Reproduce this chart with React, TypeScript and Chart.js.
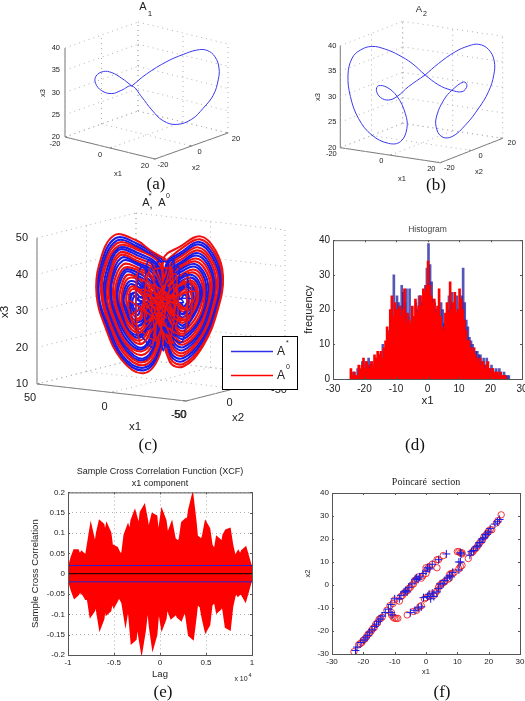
import React, { useEffect, useRef } from "react";
import { Chart, registerables } from "chart.js";
Chart.register(...registerables);

const PAGE_W = 525, PAGE_H = 701;
const SANS = "'Liberation Sans', Arial, sans-serif";
const SERIF = "'Liberation Serif', 'Times New Roman', serif";

// ---- A1 / A2 periodic orbits: [x1, x3] (x2 tracks x1)
const orbitA1 = [[-3.6,31.1],[0,33.7],[5,36.4],[9,37.9],[12.3,38.8],[14.8,38.7],[16.8,37.2],[17.8,34.6],[17.6,32],[16.4,28.6],[13.9,25.7],[11.1,23.3],[7.4,22.2],[4.1,23.1],[1.3,25.6],[-1.2,28.6],[-3.6,31.1],[-6.1,30.2],[-8.5,29.5],[-11,30.2],[-12.5,31.9],[-12.4,33.5],[-10.6,34.5],[-8.5,34.2],[-6.1,32.9],[-3.6,31.1]];
const orbitA2 = [[.9,33.3],[4.2,35.4],[8.3,37.5],[11.6,38.5],[14.1,38.7],[16.5,37.6],[17.9,35.3],[17.8,32.5],[16.5,29.3],[14.1,26.2],[10.8,23],[7.5,20.9],[5,21],[3.6,23],[3.8,25.3],[5.5,28.2],[7.5,30],[10.4,31.5],[11.2,30.7],[10,29.6],[7.1,30.1],[4.2,31.2],[.9,33.3],[-2.3,35.7],[-5.6,37.5],[-8.9,38.8],[-12.2,39.5],[-15.1,38.9],[-17.1,37.4],[-18.1,34.2],[-17.5,29.9],[-15.5,25.5],[-12.2,22.1],[-8.1,20.3],[-5.2,20.5],[-3.6,23],[-4,26],[-6,29.4],[-8.5,31.3],[-10.6,31.7],[-11.1,30.8],[-10.1,29.4],[-8.1,28.8],[-6,29.4],[-3.2,31.2],[.9,33.3]];

// ---- Attractor traces: [x1, x3] (x2 tracks x1)
const attractorRed = [
[-2,43],[4,45.5],[10,48.5],[19,50],[25,42],[26,34],[23,26],[16,16],[7,12],[.5,17],[-2,29],
[-1,43],[-8,46.5],[-16,49],[-22,45],[-25,38],[-23,29],[-17,19],[-9,13.5],[-3.5,15],[0,27],
[0,41],[10,46],[17.5,47],[23,40],[23.5,33.5],[21,27],[15,18.5],[7.5,15],[2,19],[0,29],
[-2.5,40.5],[-9,44],[-15,46],[-20,43],[-23,37],[-21,29],[-16,21],[-9,16.5],[-4.5,18],[-1.5,27.5],
[1.5,39.5],[10,43],[16.5,44.5],[20.5,38.5],[21,33],[19,27.5],[14,20.5],[8,18],[3.5,21],[1.5,29.5],
[-3.5,39],[-9,41.5],[-14,43],[-18,41],[-20.5,36],[-19,30],[-15,23],[-9,19.5],[-5.5,21],[-2.5,28.5],
[3.5,37.5],[10,40.5],[15,41],[18,37],[18.5,32.5],[17,28.5],[13,23],[8.5,21],[5,24],[3.5,30],
[-4.5,37],[-9,39],[-13,40],[-16,38.5],[-17.5,35],[-17,30],[-14,25.5],[-9,22.5],[-6,24],[-4,29],
[5.5,35.5],[10,38],[13.5,38],[15.5,35],[16,32],[15,29],[12.5,25.5],[9,24],[6.5,26],[5.5,30],
[-5.5,35],[-9,36.5],[-12,37],[-14,36],[-15,33.5],[-14.5,30.5],[-12.5,28],[-9,25.5],[-7,26.5],[-5.5,30],
[7.5,33.5],[10,35],[12,35],[13,33.5],[13,31.5],[12.5,30],[11,28],[9.5,27],[8,28],[7.5,30.5],
[-7,33.5],[-9,34.5],[-11,34.5],[-12,33.5],[-12.5,32],[-12,30.5],[-11,29.5],[-9,28.5],[-8,29],[-7,30.5],
];
const attractorBlue = [
[-1,42],[10,47],[18,48.5],[24,41],[25,33.5],[22,26.5],[15.5,17],[7,13.5],[1,18],[-1,29],
[-2,41.5],[-8.5,45],[-15.5,47.5],[-21,44],[-24,37.5],[-22,29],[-16.5,20],[-9,15],[-4,16.5],[-1,27],
[1,40.5],[10,44.5],[17,46],[21.5,39.5],[22.5,33],[20,27],[14.5,19.5],[7.5,16],[2.5,20],[.5,29.5],
[-3,39.5],[-9,42.5],[-14.5,44.5],[-19,42],[-21.5,36.5],[-20,29.5],[-15.5,22],[-9,18],[-5,19.5],[-2,28],
[2.5,38.5],[10,42],[15.5,43],[19.5,38],[20,33],[18,28],[13.5,22],[8,19],[4,22.5],[2.5,30],
[-4,38],[-9,40.5],[-13.5,41.5],[-17,39.5],[-19,35.5],[-18,30],[-14.5,24.5],[-9,21],[-6,22.5],[-3.5,29],
[4.5,36.5],[10,39],[14,40],[17,36],[17.5,32.5],[16,29],[13,24],[8.5,22.5],[5.5,25],[4.5,30],
[-5,36],[-9,38],[-12.5,38.5],[-15,37],[-16.5,34],[-15.5,30.5],[-13,27],[-9,24],[-6.5,25],[-5,29.5],
[6.5,34.5],[10,36],[12.5,36.5],[14.5,34],[15,32],[14,30],[12,26.5],[9,26],[7,27],[6.5,30.5],
[-6.5,34.5],[-9,35.5],[-11.5,36],[-13,35],[-14,33],[-13,30.5],[-12,28.5],[-9,27],[-7.5,27.5],[-6.5,30],
[9,32],[10,33],[11,33],[11.5,32],[11.5,31],[11,30],[10.5,29.5],[9.5,29],[9,30],[9,31],
[-8,32],[-9,33],[-10,33],[-10.5,32],[-10.5,31],[-10,30.5],[-9.5,30],[-9,30],[-8.5,30.5],[-8,31],
];
const attractorMoreBlue = [
[-1.5,42.5],[10,47.7],[18.5,49.2],[24.5,41.5],[25.5,33.8],[22.5,26.2],[15.8,16.5],[7,12.8],[.8,17.5],[-1.5,29],
[-2.2,41],[-8.8,44.5],[-15.2,46.8],[-20.5,43.5],[-23.5,37.2],[-21.5,29],[-16.2,20.5],[-9,15.8],[-4.2,17.2],[-1.2,27.2],
[.5,40.7],[10,45.2],[17.2,46.5],[22.2,39.8],[23,33.2],[20.5,27],[14.8,19],[7.5,15.5],[2.2,19.5],[.2,29.2],
[-3.2,39.2],[-9,42],[-14.2,43.8],[-18.5,41.5],[-21,36.2],[-19.5,29.8],[-15.2,22.5],[-9,18.8],[-5.2,20.2],[-2.2,28.2],
[2,39],[10,42.5],[16,43.8],[20,38.2],[20.5,33],[18.5,27.8],[13.8,21.2],[8,18.5],[3.8,21.8],[2,29.8],
[-4.2,37.5],[-9,39.8],[-13.2,40.8],[-16.5,39],[-18.2,35.2],[-17.5,30],[-14.2,25],[-9,21.8],[-6,23.2],[-3.8,29],
[4,37],[10,39.8],[14.5,40.5],[17.5,36.5],[18,32.5],[16.5,28.8],[13,23.5],[8.5,21.8],[5.2,24.5],[4,30],
[-5.2,35.5],[-9,37.2],[-12.2,37.8],[-14.5,36.5],[-15.8,33.8],[-15,30.5],[-12.8,27.5],[-9,24.8],[-6.8,25.8],[-5.2,29.8],
[6,35],[10,37],[13,37.2],[15,34.5],[15.5,32],[14.5,29.5],[12.2,26],[9,25],[6.8,26.5],[6,30.2],
[-6.8,34],[-9,35],[-11.2,35.2],[-12.5,34.2],[-13.2,32.5],[-12.5,30.5],[-11.5,29],[-9,27.8],[-7.8,28.2],[-6.8,30.2],
[8.2,32.8],[10,34],[11.5,34],[12.2,32.8],[12.2,31.2],[11.8,30],[10.8,28.8],[9.5,28],[8.5,29],[8.2,30.8],
];
const attractorMoreRed = [
[-1.5,42.2],[-8.2,45.8],[-15.8,48.2],[-21.5,44.5],[-24.5,37.8],[-22.5,29],[-16.8,19.5],[-9,14.2],[-3.8,15.8],[-.5,27],
[-.5,41.5],[10,46.5],[17.8,47.8],[23.5,40.5],[24,33.5],[21.5,26.8],[15.2,17.8],[7.2,14.2],[1.5,18.5],[-.5,29],
[-2.8,40],[-9,43.2],[-14.8,45.2],[-19.5,42.5],[-22.2,36.8],[-20.5,29.2],[-15.8,21.5],[-9,17.2],[-4.8,18.8],[-1.8,27.8],
[1.2,40],[10,43.8],[16.8,45.2],[21,39],[21.8,33],[19.5,27.2],[14.2,20],[7.8,17],[3,20.5],[1,29.5],
[-3.8,38.5],[-9,41],[-13.8,42.2],[-17.5,40.2],[-19.8,35.8],[-18.5,30],[-14.8,23.8],[-9,20.2],[-5.8,21.8],[-3,28.8],
[3,38],[10,41.2],[15.2,42],[18.8,37.5],[19.2,32.8],[17.5,28.2],[13.2,22.5],[8.2,20],[4.5,23.2],[3,30],
[-4.8,36.5],[-9,38.5],[-12.8,39.2],[-15.5,37.8],[-17,34.5],[-16.2,30.2],[-13.5,26.2],[-9,23.2],[-6.2,24.5],[-4.5,29.2],
[5,36],[10,38.5],[13.8,39],[16.2,35.5],[16.8,32.2],[15.5,29],[12.8,24.8],[8.8,23.2],[6,25.5],[5,30],
[-6,34.8],[-9,36],[-11.8,36.5],[-13.5,35.5],[-14.5,33.2],[-13.8,30.5],[-12.2,28.2],[-9,26.2],[-7.2,27],[-6,30],
[7,34],[10,35.5],[12.2,35.8],[13.8,33.8],[14,31.8],[13.2,30],[11.5,27.2],[9.2,26.5],[7.5,27.5],[7,30.5],
[-7.5,32.8],[-9,33.8],[-10.5,33.8],[-11.2,32.8],[-11.5,31.5],[-11,30.5],[-10.2,29.8],[-9,29.2],[-8.2,29.8],[-7.5,30.8],
];
const centreBlue = [[6,41],[-5,26],[-7,38],[5,24],[7,37],[-4,22],[-7,41],[6,27],[5,43],[-4,31],[-5,43],[4,20],[-2,38],[-1,18],[3,34],[-6,33],[5,31],[-3,24],[10,38],[-10,24],[-12,36],[10,25],[12,34],[-8,20],[-10,39],[9,22],[8,41],[-8,28],[-13,32],[13,30],[3,19],[-3,42],[2,42],[-2,19],[0,36],[-9,31],[9,33],[0,25],[-6,22],[6,36]];
const centreRed = [[5,40],[-6,25],[-6,36],[6,26],[6,35],[-3,20],[-6,39],[7,29],[4,41],[-5,29],[-4,41],[3,22],[-1,36],[1,19],[4,36],[-7,31],[6,33],[-2,27],[11,36],[-11,26],[-11,38],[9,23],[13,32],[-9,22],[-9,37],[8,20],[9,40],[-7,26],[-14,34],[12,28],[2,21],[-4,40],[3,40],[-1,21],[1,34],[-10,29],[8,35],[-1,23],[-5,20],[7,38]];

// ---- 3-D axis ticks
const ticks20 = [-20, 0, 20];
const ticks3ab = [20, 25, 30, 35, 40];
const ticks50 = [50, 0, -50];
const ticks3c = [10, 20, 30, 40, 50];

// ---- Histogram (x1 bins and frequencies)
const histBins = [-24,-23.5,-23,-22.5,-22,-21.5,-21,-20.5,-20,-19.5,-19,-18.5,-18,-17.5,-17,-16.5,-16,-15.5,-15,-14.5,-14,-13.5,-13,-12.5,-12,-11.5,-11,-10.5,-10,-9.5,-9,-8.5,-8,-7.5,-7,-6.5,-6,-5.5,-5,-4.5,-4,-3.5,-3,-2.5,-2,-1.5,-1,-.5,0,.5,1,1.5,2,2.5,3,3.5,4,4.5,5,5.5,6,6.5,7,7.5,8,8.5,9,9.5,10,10.5,11,11.5,12,12.5,13,13.5,14,14.5,15,15.5,16,16.5,17,17.5,18,18.5,19,19.5,20,20.5,21,21.5,22,22.5,23,23.5,24,24.5,25,25.5];
const histRed = [3,1,2,1,1,4,3,4,6,3,5,4,3,5,4,7,6,8,7,8,6,9,11,15,13,20,24,18,22,20,20,21,18,20,26,16,19,17,16,21,18,23,19,21,24,21,26,25,27,34,27,24,22,23,19,21,26,18,15,14,19,22,19,28,20,22,25,19,20,26,23,20,17,14,11,11,9,8,9,7,6,5,6,4,5,3,4,5,3,2,3,2,2,2,1,2,1,1,1,0];
const histBlue = [2,2,1,3,2,2,5,3,5,4,6,4,5,4,5,6,7,7,6,10,7,8,13,14,15,15,30,20,24,22,21,27,25,22,26,18,26,16,18,17,22,20,24,24,22,23,27,32,39,33,28,23,22,20,20,18,22,20,16,15,20,24,22,25,21,19,24,20,22,24,32,22,17,15,12,11,10,9,8,8,7,7,5,6,4,6,3,3,4,3,2,3,1,3,2,1,2,1,1,1];

// ---- Cross correlation envelope
const lags = [-10000,-9750,-9500,-9250,-9000,-8750,-8500,-8250,-8000,-7750,-7500,-7250,-7000,-6750,-6500,-6250,-6000,-5750,-5500,-5250,-5000,-4750,-4500,-4250,-4000,-3750,-3500,-3250,-3000,-2750,-2500,-2250,-2000,-1750,-1500,-1250,-1000,-750,-500,-250,0,250,500,750,1000,1250,1500,1750,2000,2250,2500,2750,3000,3250,3500,3750,4000,4250,4500,4750,5000,5250,5500,5750,6000,6250,6500,6750,7000,7250,7500,7750,8000,8250,8500,8750,9000,9250,9500,9750,10000];
const xcfUpper = [.005,.02,.04,.055,.055,.04,.05,.045,.035,.07,.105,.08,.06,.1,.125,.12,.085,.113,.1,.055,.065,.062,.05,.045,.05,.095,.11,.09,.13,.145,.125,.1,.15,.16,.13,.085,.12,.143,.14,.08,.105,.145,.13,.085,.1,.115,.085,.08,.075,.085,.125,.13,.11,.155,.178,.13,.07,.085,.08,.09,.12,.11,.07,.06,.05,.085,.08,.06,.095,.105,.107,.07,.045,.04,.05,.04,.055,.06,.04,.02,.005];
const xcfLower = [-.005,-.02,-.04,-.055,-.05,-.04,-.045,-.05,-.06,-.06,-.098,-.09,-.055,-.09,-.125,-.11,-.06,-.095,-.09,-.06,-.075,-.065,-.05,-.06,-.07,-.105,-.07,-.1,-.165,-.16,-.1,-.14,-.175,-.14,-.09,-.07,-.13,-.17,-.15,-.08,-.09,-.125,-.11,-.06,-.09,-.105,-.1,-.09,-.105,-.11,-.095,-.075,-.11,-.15,-.155,-.11,-.06,-.075,-.08,-.11,-.135,-.125,-.075,-.07,-.06,-.09,-.085,-.06,-.09,-.13,-.133,-.08,-.055,-.04,-.05,-.045,-.05,-.06,-.04,-.02,-.005];
const xcfBoundUpper = [.02,.02];
const xcfBoundLower = [-.02,-.02];
const xcfZero = [0,0];
const xcfEnds = [-10000,10000];

// ---- Poincare section
const poincareRed = [[-23,-29],[-21.5,-26],[-21,-25.5],[-20.5,-25],[-20,-24],[-19.5,-23.5],[-19,-22.5],[-18.5,-21.5],[-18,-21],[-17.5,-20],[-17,-19],[-16.5,-18.5],[-16,-17],[-15.5,-16.5],[-15,-15],[-14.5,-14.5],[-14,-14],[-12.5,-11],[-11.5,-9],[-10.5,-8],[-10,-6.5],[-8.5,-7],[-8,-5],[-7.5,-4.5],[-7,-3.5],[-6.5,-3],[-6,-2.5],[-5.5,-1.5],[-5,-1],[-4.5,0],[-4,.5],[-3.5,2],[-3,2.5],[-2.5,3.5],[-1.5,3],[-1,4],[0,5],[0,7.5],[.5,7],[1,8],[2,9],[3.5,7.5],[3.5,11],[4,11],[5.5,12.8],[-11,-12],[-11,-13],[-10.5,-14],[-10,-14.5],[-9.5,-14.5],[-9,-14.5],[-6,-13],[-4,-11.5],[-3,-11],[-2,-9.5],[-1.5,-9],[-.5,-6],[0,-5.5],[1,-5],[1.5,-4],[2.5,-4.5],[3,-3.5],[3.5,-2.5],[4,-1],[4.5,0],[5,.5],[5.5,1],[6,1.5],[7,2.5],[7.5,3],[7.5,4.5],[8,5],[8.5,5],[9,5.5],[10.5,7],[11,8],[11.5,8.5],[13.5,11.5],[10,14.5],[10.5,14.5],[11,14],[11.5,14],[11.5,13.5],[14.5,14],[15,14.5],[15.5,15.5],[16,16],[16.5,17],[17,18],[17.5,19],[18,19.5],[18.5,21],[19,21.5],[19.5,22.5],[20,23.5],[20.5,24],[21,24],[22.5,27],[23,28],[24,30.5]];
const poincareBlue = [[-22.5,-28.5],[-22,-27],[-20.8,-25],[-19.8,-24],[-19.2,-23],[-18.6,-22],[-18,-20.5],[-17.2,-19.5],[-16.4,-18],[-15.8,-17],[-15.2,-15.8],[-14.6,-14.8],[-14,-13.5],[-13,-12],[-12,-10.5],[-11.2,-8.5],[-11.2,-12],[-10.8,-13],[-10,-6],[-8.5,-6],[-8,-4.5],[-7,-3],[-6.5,-2.5],[-6,-3],[-5.5,-1],[-4.5,.5],[-3.5,2.5],[-3,3],[-2.5,2.5],[-2,3.5],[-1,5],[0,6],[.5,7.5],[1.2,7],[2,9],[4,11],[6.5,13.5],[-5,-12],[-3.5,-11],[-2.5,-10],[-1.5,-9.5],[-.8,-5.5],[.5,-5],[1,-4],[1.5,-6],[2,-3.5],[2.5,-5],[3.5,-3],[4,-1.5],[4.5,.5],[5.5,.5],[6,2],[6.8,3],[7.5,4],[8,3.5],[8.5,5.5],[10.5,10],[11,10],[10.5,6.5],[11,14],[11.2,13.5],[14,13],[14.5,14.5],[15.2,15],[16,16.5],[16.5,17],[17,18.5],[17.5,18.5],[18,20],[18.5,20.5],[19,22],[19.5,22],[20,23],[20.5,24.5],[22,26.5],[22.8,27.5],[23.5,28.5]];

const lineBlue = "#3a3af0";
const gridGrey = "#b0b0b0";
const axisGrey = "#777777";
const textDark = "#222222";

type Label = { t: string; x: number; y: number; s: number; f?: string; a?: CanvasTextAlign; r?: number; c?: string };

function textPlugin(labels: Label[], after?: (c: CanvasRenderingContext2D) => void) {
  return {
    id: "pageText",
    afterDraw(chart: any) {
      const c = chart.ctx;
      c.save();
      c.textBaseline = "middle";
      for (const l of labels) {
        c.save();
        c.translate(l.x, l.y);
        if (l.r) c.rotate(l.r);
        c.font = `${l.s}px ${l.f || SANS}`;
        c.textAlign = l.a || "center";
        c.fillStyle = l.c || textDark;
        c.fillText(l.t, 0, 0);
        c.restore();
      }
      c.restore();
      if (after) after(c);
    },
  };
}

function boxPlugin(tickLen: number) {
  return {
    id: "matlabBox",
    afterDatasetsDraw(chart: any) {
      const { ctx: c, chartArea: a, scales } = chart;
      c.save();
      c.strokeStyle = "#555555";
      c.lineWidth = 1;
      c.strokeRect(a.left + 0.5, a.top + 0.5, a.right - a.left, a.bottom - a.top);
      c.beginPath();
      for (const t of scales.x.ticks) {
        const p = Math.round(scales.x.getPixelForValue(t.value)) + 0.5;
        c.moveTo(p, a.bottom); c.lineTo(p, a.bottom - tickLen);
        c.moveTo(p, a.top); c.lineTo(p, a.top + tickLen);
      }
      for (const t of scales.y.ticks) {
        const p = Math.round(scales.y.getPixelForValue(t.value)) + 0.5;
        c.moveTo(a.left, p); c.lineTo(a.left + tickLen, p);
        c.moveTo(a.right, p); c.lineTo(a.right - tickLen, p);
      }
      c.stroke();
      c.restore();
    },
  };
}

type View = { o: number[]; u: number[]; v: number[]; w: number[]; r1: number[]; r2: number[]; r3: number[] };

function project(view: View, x1: number, x2: number, x3: number) {
  const a = (x1 - view.r1[0]) / (view.r1[1] - view.r1[0]);
  const b = (x2 - view.r2[0]) / (view.r2[1] - view.r2[0]);
  const g = (x3 - view.r3[0]) / (view.r3[1] - view.r3[0]);
  return {
    x: view.o[0] + a * view.u[0] + b * view.v[0] + g * view.w[0],
    y: view.o[1] + a * view.u[1] + b * view.v[1] + g * view.w[1],
  };
}

function seg(view: View, p: number[], q: number[], dashed: boolean) {
  return {
    data: [project(view, p[0], p[1], p[2]), project(view, q[0], q[1], q[2])],
    showLine: true, pointRadius: 0,
    borderColor: dashed ? gridGrey : axisGrey,
    borderWidth: 1,
    borderDash: dashed ? [1, 4] : [],
    tension: 0,
  };
}

function frame3D(view: View, t1: number[], t2: number[], t3: number[]) {
  const [a1, b1] = view.r1, [a2, b2] = view.r2, [a3, b3] = view.r3;
  const ds: any[] = [];
  for (const t of t1) {
    ds.push(seg(view, [t, a2, a3], [t, b2, a3], true));
    ds.push(seg(view, [t, b2, a3], [t, b2, b3], true));
    ds.push(seg(view, [t, a2, a3], [t, a2 + (b2 - a2) * 0.025, a3], false));
  }
  for (const t of t2) {
    ds.push(seg(view, [a1, t, a3], [b1, t, a3], true));
    ds.push(seg(view, [a1, t, a3], [a1, t, b3], true));
    ds.push(seg(view, [b1, t, a3], [b1 - (b1 - a1) * 0.025, t, a3], false));
  }
  for (const t of t3) {
    ds.push(seg(view, [a1, a2, t], [a1, b2, t], true));
    ds.push(seg(view, [a1, b2, t], [b1, b2, t], true));
  }
  ds.push(seg(view, [a1, a2, a3], [b1, a2, a3], false));
  ds.push(seg(view, [b1, a2, a3], [b1, b2, a3], false));
  ds.push(seg(view, [a1, a2, a3], [a1, a2, b3], false));
  return ds;
}

function trace(view: View, pts: number[][], color: string, width: number, tension = 0.4) {
  return {
    data: pts.map(([x1, x3]) => project(view, x1, x1, x3)),
    showLine: true, pointRadius: 0, borderColor: color, borderWidth: width, tension,
  };
}

function axisLabels(view: View, t1: number[], t2: number[], t3: number[], s: number, o1: number[], o2: number[], ox3: number): Label[] {
  const out: Label[] = [];
  const [a1] = view.r1, [a2] = view.r2, [a3] = view.r3;
  for (const t of t1) { const p = project(view, t, a2, a3); out.push({ t: String(t), x: p.x + o1[0], y: p.y + o1[1], s }); }
  const b1 = view.r1[1];
  for (const t of t2) { const p = project(view, b1, t, a3); out.push({ t: String(t), x: p.x + o2[0], y: p.y + o2[1], s }); }
  for (const t of t3) { const p = project(view, a1, a2, t); out.push({ t: String(t), x: p.x + ox3, y: p.y, s, a: "right" }); }
  return out;
}

const pageScales: any = {
  x: { type: "linear", min: 0, max: PAGE_W, display: false },
  y: { type: "linear", min: 0, max: PAGE_H, reverse: true, display: false },
};
const baseOpts: any = {
  responsive: false, animation: false, devicePixelRatio: 1,
  plugins: { legend: { display: false }, tooltip: { enabled: false } },
};

const viewA: View = { o: [65, 137], u: [90, 22], v: [73, -26], w: [0, -89], r1: [-20, 20], r2: [-20, 20], r3: [20, 40] };
const viewB: View = { o: [340.3, 147.7], u: [100, 15], v: [62.4, -24.4], w: [0, -102], r1: [-20, 20], r2: [-20, 20], r3: [20, 40] };
const viewC: View = { o: [37, 384], u: [149, 17], v: [99, -25], w: [0, -146], r1: [50, -50], r2: [50, -50], r3: [10, 50] };

function config3D(datasets: any[], labels: Label[], after?: (c: CanvasRenderingContext2D) => void) {
  return {
    type: "scatter",
    data: { datasets },
    options: { ...baseOpts, scales: pageScales, layout: { padding: 0 } },
    plugins: [textPlugin(labels, after)],
  };
}

const ROT = -Math.PI / 2;

function drawLegendC(c: CanvasRenderingContext2D) {
  c.save();
  c.fillStyle = "#ffffff";
  c.strokeStyle = "#000000";
  c.lineWidth = 1;
  c.fillRect(222.5, 336.5, 75, 53);
  c.strokeRect(222.5, 336.5, 75, 53);
  const row = (y: number, col: string, sup: string) => {
    c.strokeStyle = col;
    c.lineWidth = 1.5;
    c.beginPath(); c.moveTo(231, y); c.lineTo(273, y); c.stroke();
    c.fillStyle = textDark;
    c.textBaseline = "middle"; c.textAlign = "left";
    c.font = `12px ${SANS}`;
    c.fillText("A", 277, y);
    c.font = `7px ${SANS}`;
    c.fillText(sup, 286, y - 8);
  };
  row(351.5, "#3030e8", "*");
  row(375.5, "#ff0000", "0");
  c.restore();
}

function charts(): any[] {
  const a = config3D(
    [trace(viewA, orbitA1, lineBlue, 1), ...frame3D(viewA, ticks20, ticks20, ticks3ab)],
    [
      { t: "A", x: 143, y: 7, s: 11 }, { t: "1", x: 150, y: 14, s: 8 },
      { t: "x1", x: 118, y: 174, s: 7.5 }, { t: "x2", x: 196, y: 168, s: 7.5 },
      { t: "x3", x: 43, y: 93, s: 7.5, r: ROT },
      ...axisLabels(viewA, ticks20, ticks20, ticks3ab, 7.5, [-10, 7], [8, 6], -5),
    ]);
  const b = config3D(
    [trace(viewB, orbitA2, lineBlue, 1), ...frame3D(viewB, ticks20, ticks20, ticks3ab)],
    [
      { t: "A", x: 419, y: 9, s: 9.5 }, { t: "2", x: 425, y: 14, s: 7 },
      { t: "x1", x: 402, y: 179, s: 7.5 }, { t: "x2", x: 479, y: 172, s: 7.5 },
      { t: "x3", x: 318, y: 97, s: 7.5, r: ROT },
      ...axisLabels(viewB, ticks20, ticks20, ticks3ab, 7.5, [-9, 6], [9, 5], -4),
    ]);
  const cc = config3D(
    [
      trace(viewC, centreRed, "#ee1111", 1.5, 0.25),
      trace(viewC, centreBlue, "#1a1ae6", 1.5, 0.25),
      trace(viewC, attractorRed, "#f01010", 2),
      trace(viewC, attractorBlue, "#1a1ae6", 2),
      trace(viewC, attractorMoreRed, "#f01010", 2.2),
      trace(viewC, attractorMoreBlue, "#1a1ae6", 2.2),
      ...frame3D(viewC, ticks50, ticks50, ticks3c),
    ],
    [
      { t: "A", x: 146, y: 203, s: 11 }, { t: "*", x: 150, y: 196, s: 8 }, { t: ",", x: 151, y: 205, s: 11 },
      { t: "A", x: 162, y: 203, s: 11 }, { t: "0", x: 168, y: 196, s: 7 },
      { t: "x1", x: 135, y: 427, s: 11.5 }, { t: "x2", x: 238, y: 418, s: 11.5 },
      { t: "x3", x: 5, y: 312, s: 11.5, r: ROT },
      ...axisLabels(viewC, ticks50, ticks50, ticks3c, 11, [-7, 14], [-6, 14], -9),
    ], drawLegendC);

  const fit = (size: number, vertical: boolean) => (s: any) => {
    if (vertical) { s.width = size; s.paddingTop = 0; s.paddingBottom = 0; }
    else { s.height = size; s.paddingLeft = 0; s.paddingRight = 0; }
  };
  const font = (size: number, family = SANS) => ({ size, family, weight: "normal" as const });

  const d = {
    type: "bar",
    data: {
      datasets: [
        { data: histBins.map((x, i) => ({ x, y: histRed[i] })), backgroundColor: "#ff0000", barThickness: 2 },
        { data: histBins.map((x, i) => ({ x, y: histBlue[i] })), backgroundColor: "rgba(30,30,160,0.75)", barThickness: 2 },
      ],
    },
    options: {
      ...baseOpts,
      layout: { padding: { left: 302, right: 3, top: 225, bottom: 701 - 379 - 29 } },
      plugins: { ...baseOpts.plugins, title: { display: true, fullSize: false, text: "Histogram", color: "#444", font: font(8.5), padding: { top: 0, bottom: 5 } } },
      scales: {
        x: {
          type: "linear", min: -30, max: 30, offset: false, afterFit: fit(29, false),
          grid: { display: false, drawTicks: false }, border: { display: false },
          ticks: { stepSize: 10, font: font(10), color: textDark, padding: 4, maxRotation: 0, autoSkip: false },
          title: { display: true, text: "x1", font: font(11.5), color: textDark, padding: 0 },
        },
        y: {
          min: 0, max: 40, afterFit: fit(31, true),
          grid: { display: false, drawTicks: false }, border: { display: false },
          ticks: { stepSize: 10, font: font(10), color: textDark, padding: 3 },
          title: { display: true, text: "frequency", font: font(11), color: textDark, padding: 0 },
        },
      },
    },
    plugins: [boxPlugin(2)],
  };

  const xy = (xs: number[], ys: number[]) => xs.map((x, i) => ({ x, y: ys[i] }));
  const e = {
    type: "line",
    data: {
      datasets: [
        { data: xy(xcfEnds, xcfZero), borderColor: "#000000", borderWidth: 1, pointRadius: 0 },
        { data: xy(xcfEnds, xcfBoundUpper), borderColor: "#2020d0", borderWidth: 1, pointRadius: 0 },
        { data: xy(xcfEnds, xcfBoundLower), borderColor: "#2020d0", borderWidth: 1, pointRadius: 0 },
        { data: xy(lags, xcfUpper), borderColor: "#ff0000", borderWidth: 4, pointRadius: 0, fill: "+1", backgroundColor: "#ff0000" },
        { data: xy(lags, xcfLower), borderColor: "#ff0000", borderWidth: 4, pointRadius: 0 },
      ],
    },
    options: {
      ...baseOpts,
      layout: { padding: { left: 30, right: 273, top: 466, bottom: 701 - 655 - 25 } },
      plugins: {
        ...baseOpts.plugins,
        title: { display: true, fullSize: false, text: ["Sample Cross Correlation Function (XCF)", "x1 component"], color: textDark, font: { ...font(9), lineHeight: 1.3 }, padding: { top: 0, bottom: 3 } },
      },
      scales: {
        x: {
          type: "linear", min: -10000, max: 10000, afterFit: fit(25, false),
          grid: { drawTicks: false, color: gridGrey }, border: { display: false, dash: [1, 3] },
          ticks: { stepSize: 5000, font: font(8), color: textDark, padding: 3, maxRotation: 0, autoSkip: false, callback: (v: number) => String(v / 10000) },
          title: { display: true, text: "Lag", font: font(9.5), color: textDark, padding: 0 },
        },
        y: {
          min: -0.2, max: 0.2, afterFit: fit(38, true),
          grid: { drawTicks: false, color: gridGrey }, border: { display: false, dash: [1, 3] },
          ticks: { stepSize: 0.05, font: font(8), color: textDark, padding: 3, autoSkip: false, callback: (v: number) => String(Math.round(v * 100) / 100) },
          title: { display: true, text: "Sample Cross Correlation", font: font(9.5), color: textDark, padding: 0 },
        },
      },
    },
    plugins: [boxPlugin(2), textPlugin([
      { t: "x 10", x: 241, y: 679, s: 7 }, { t: "4", x: 250, y: 675, s: 5.5 },
    ])],
  };

  const toPts = (p: number[][]) => p.map(([x, y]) => ({ x, y }));
  const f = {
    type: "scatter",
    data: {
      datasets: [
        { data: toPts(poincareBlue), pointStyle: "cross", pointRadius: 4, borderColor: "#1c1ce0", borderWidth: 1, backgroundColor: "transparent" },
        { data: toPts(poincareRed), pointStyle: "circle", pointRadius: 3.2, borderColor: "#f02020", borderWidth: 0.9, backgroundColor: "transparent" },
      ],
    },
    options: {
      ...baseOpts,
      layout: { padding: { left: 303, right: 5, top: 476, bottom: 701 - 654 - 22 } },
      plugins: {
        ...baseOpts.plugins,
        title: { display: true, fullSize: false, text: "Poincaré  section", color: textDark, font: font(10, SERIF), padding: { top: 0, bottom: 5 } },
      },
      scales: {
        x: {
          type: "linear", min: -30, max: 30, afterFit: fit(22, false),
          grid: { display: false, drawTicks: false }, border: { display: false },
          ticks: { stepSize: 10, font: font(8), color: textDark, padding: 3, maxRotation: 0, autoSkip: false },
          title: { display: true, text: "x1", font: font(7.5), color: textDark, padding: 0 },
        },
        y: {
          min: -30, max: 40, afterFit: fit(29, true),
          grid: { display: false, drawTicks: false }, border: { display: false },
          ticks: { stepSize: 10, font: font(8), color: textDark, padding: 3 },
          title: { display: true, text: "x2", font: font(7.5), color: textDark, padding: 0 },
        },
      },
    },
    plugins: [boxPlugin(2)],
  };
  return [a, b, cc, d, e, f];
}

const captions = [
  { t: "(a)", x: 156, y: 184 }, { t: "(b)", x: 436, y: 185 },
  { t: "(c)", x: 148, y: 445 }, { t: "(d)", x: 415, y: 445 },
  { t: "(e)", x: 163, y: 692 }, { t: "(f)", x: 442, y: 692 },
];

export default function App() {
  const host = useRef<HTMLDivElement>(null);
  useEffect(() => {
    const made: Chart[] = [];
    for (const cfg of charts()) {
      const canvas = document.createElement("canvas");
      canvas.width = PAGE_W; canvas.height = PAGE_H;
      canvas.style.cssText = `position:absolute;left:0;top:0;width:${PAGE_W}px;height:${PAGE_H}px`;
      host.current!.appendChild(canvas);
      made.push(new Chart(canvas, cfg as any));
    }
    return () => {
      made.forEach((c) => { const el = c.canvas; c.destroy(); el.remove(); });
    };
  }, []);
  return (
    <div style={{ position: "absolute", left: 0, top: 0, width: PAGE_W, height: PAGE_H, overflow: "hidden", background: "#fff" }}>
      <div ref={host} />
      {captions.map((c) => (
        <div key={c.t} style={{ position: "absolute", left: c.x, top: c.y, transform: "translate(-50%,-50%)", font: `17px ${SERIF}`, color: "#111" }}>{c.t}</div>
      ))}
    </div>
  );
}
